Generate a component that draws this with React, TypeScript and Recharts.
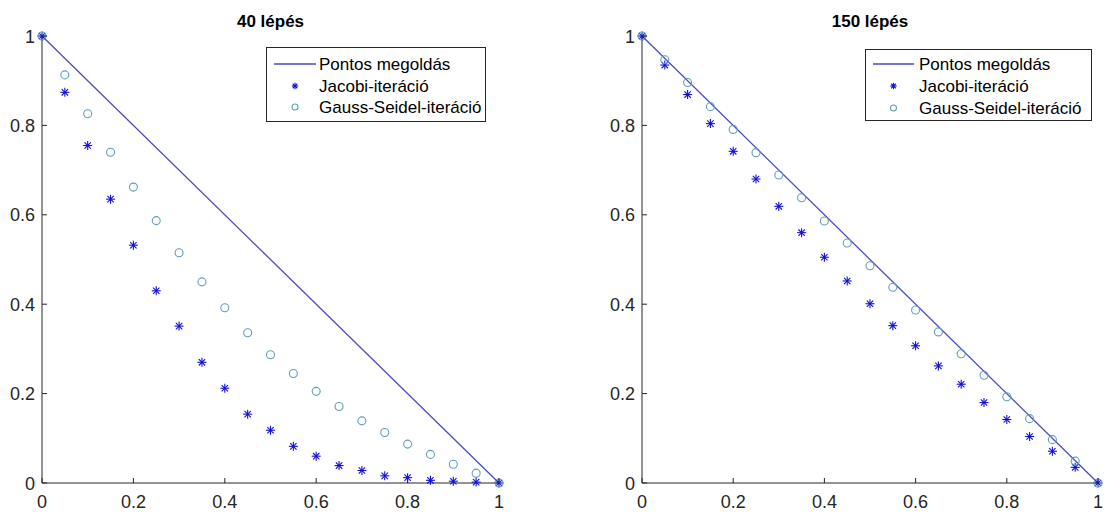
import React from 'react';
import { ComposedChart, Scatter, XAxis, YAxis, Legend } from 'recharts';

const FONT = '"Liberation Sans", Arial, Helvetica, sans-serif';
const AXIS_COLOR = '#262626';
const LINE_COLOR = '#4a4ac4';
const STAR_COLOR = '#1010d8';
const CIRCLE_COLOR = '#5fa0b8';

const xValues = [0, 0.05, 0.1, 0.15, 0.2, 0.25, 0.3, 0.35, 0.4, 0.45, 0.5, 0.55, 0.6, 0.65, 0.7, 0.75, 0.8, 0.85, 0.9, 0.95, 1];
const exactX = [0, 1];
const exactY = [1, 0];
const jacobi40 = [1, 0.874, 0.755, 0.635, 0.532, 0.43, 0.351, 0.27, 0.212, 0.154, 0.118, 0.082, 0.06, 0.039, 0.028, 0.016, 0.012, 0.006, 0.004, 0.002, 0];
const gaussSeidel40 = [1, 0.913, 0.826, 0.74, 0.662, 0.587, 0.515, 0.45, 0.392, 0.336, 0.287, 0.245, 0.205, 0.171, 0.139, 0.113, 0.087, 0.064, 0.042, 0.022, 0];
const jacobi150 = [1, 0.935, 0.869, 0.804, 0.742, 0.68, 0.619, 0.56, 0.505, 0.452, 0.401, 0.352, 0.307, 0.262, 0.221, 0.18, 0.142, 0.104, 0.071, 0.035, 0];
const gaussSeidel150 = [1, 0.947, 0.896, 0.842, 0.791, 0.739, 0.689, 0.638, 0.586, 0.537, 0.486, 0.438, 0.387, 0.338, 0.289, 0.241, 0.193, 0.144, 0.097, 0.049, 0];
const tickValues = [0, 0.2, 0.4, 0.6, 0.8, 1];
const yTickValues = [0, 0.2, 0.4, 0.6, 0.8, 1];
const titles = ['40 lépés', '150 lépés'];
const legendLabels = ['Pontos megoldás', 'Jacobi-iteráció', 'Gauss-Seidel-iteráció'];

const toPoints = (xs: number[], ys: number[]) => xs.map((x, i) => ({ x, y: ys[i] }));

const Star = ({ cx, cy, r = 4.5, color = STAR_COLOR }: any) => {
  if (cx == null || cy == null) return <g />;
  const d = r * 0.7071;
  return (
    <g stroke={color} strokeWidth={1.1}>
      <line x1={cx - r} y1={cy} x2={cx + r} y2={cy} />
      <line x1={cx} y1={cy - r} x2={cx} y2={cy + r} />
      <line x1={cx - d} y1={cy - d} x2={cx + d} y2={cy + d} />
      <line x1={cx - d} y1={cy + d} x2={cx + d} y2={cy - d} />
    </g>
  );
};

const Ring = ({ cx, cy, r = 4 }: any) => {
  if (cx == null || cy == null) return <g />;
  return <circle cx={cx} cy={cy} r={r} fill="none" stroke={CIRCLE_COLOR} strokeWidth={1.1} />;
};

const Nothing = () => <g />;

const BottomTick = ({ x, y, payload }: any) => (
  <g>
    <line x1={x} x2={x} y1={y} y2={y - 5} stroke={AXIS_COLOR} strokeWidth={1} />
    <text x={x} y={y + 25} textAnchor="middle" fontFamily={FONT} fontSize={18} fill={AXIS_COLOR}>
      {String(payload.value)}
    </text>
  </g>
);
const TopTick = ({ x, y }: any) => (
  <line x1={x} x2={x} y1={y} y2={y + 5} stroke={AXIS_COLOR} strokeWidth={1} />
);
const LeftTick = ({ x, y, payload }: any) => (
  <g>
    <line x1={x} x2={x + 5} y1={y} y2={y} stroke={AXIS_COLOR} strokeWidth={1} />
    <text x={x - 7} y={y + 6.5} textAnchor="end" fontFamily={FONT} fontSize={18} fill={AXIS_COLOR}>
      {String(payload.value)}
    </text>
  </g>
);
const RightTick = ({ x, y }: any) => (
  <line x1={x} x2={x - 5} y1={y} y2={y} stroke={AXIS_COLOR} strokeWidth={1} />
);

const LegendBox = ({ w, h, rows, lineX1, lineX2, textX }: any) => (
  <svg width={w} height={h} style={{ display: 'block', overflow: 'visible' }}>
    <rect x={0.5} y={0.5} width={w - 1} height={h - 1} fill="#ffffff" stroke={AXIS_COLOR} strokeWidth={1} />
    <line x1={lineX1} x2={lineX2} y1={rows[0]} y2={rows[0]} stroke={LINE_COLOR} strokeWidth={1.3} />
    <Star cx={(lineX1 + lineX2) / 2} cy={rows[1]} r={3.2} />
    <Ring cx={(lineX1 + lineX2) / 2} cy={rows[2]} r={3} />
    {legendLabels.map((lab, i) => (
      <text key={lab} x={textX} y={rows[i] + 6} fontFamily={FONT} fontSize={17} fill="#000000">
        {lab}
      </text>
    ))}
  </svg>
);

type PanelProps = {
  title: string;
  jacobi: number[];
  gs: number[];
  left: number;
  width: number;
  marginRight: number;
  legend: { left: number; top: number; w: number; h: number; rows: number[]; lineX1: number; lineX2: number; textX: number };
};

const Panel = ({ title, jacobi, gs, left, width, marginRight, legend }: PanelProps) => {
  const plotLeft = 42;
  const plotRight = width - marginRight;
  const center = (plotLeft + plotRight) / 2;
  return (
    <div style={{ position: 'absolute', left, top: 0, width, height: 516 }}>
      <ComposedChart width={width} height={516} margin={{ top: 36, right: marginRight, bottom: 0, left: 0 }}>
        <XAxis
          dataKey="x"
          type="number"
          domain={[0, 1]}
          ticks={tickValues}
          interval={0}
          height={33}
          tickSize={0}
          tickMargin={0}
          tickLine={false}
          tick={BottomTick}
          axisLine={{ stroke: AXIS_COLOR }}
        />
        <XAxis
          xAxisId="top"
          orientation="top"
          dataKey="x"
          type="number"
          domain={[0, 1]}
          ticks={tickValues}
          interval={0}
          height={0}
          tickSize={0}
          tickMargin={0}
          tickLine={false}
          tick={TopTick}
          axisLine={{ stroke: AXIS_COLOR }}
        />
        <YAxis
          dataKey="y"
          type="number"
          domain={[0, 1]}
          ticks={yTickValues}
          interval={0}
          width={42}
          tickSize={0}
          tickMargin={0}
          tickLine={false}
          tick={LeftTick}
          axisLine={{ stroke: AXIS_COLOR }}
        />
        <YAxis
          yAxisId="right"
          orientation="right"
          dataKey="y"
          type="number"
          domain={[0, 1]}
          ticks={yTickValues}
          interval={0}
          width={0}
          tickSize={0}
          tickMargin={0}
          tickLine={false}
          tick={RightTick}
          axisLine={{ stroke: AXIS_COLOR }}
        />
        <Scatter
          name={legendLabels[0]}
          data={toPoints(exactX, exactY)}
          line={{ stroke: LINE_COLOR, strokeWidth: 1.3 }}
          shape={Nothing}
          isAnimationActive={false}
        />
        <Scatter
          name={legendLabels[1]}
          data={toPoints(xValues, jacobi)}
          shape={(p: any) => <Star cx={p.cx} cy={p.cy} />}
          isAnimationActive={false}
        />
        <Scatter
          name={legendLabels[2]}
          data={toPoints(xValues, gs)}
          shape={(p: any) => <Ring cx={p.cx} cy={p.cy} />}
          isAnimationActive={false}
        />
        <Legend
          layout="vertical"
          align="center"
          verticalAlign="middle"
          wrapperStyle={{ left: legend.left, top: legend.top, width: legend.w, height: legend.h }}
          content={() => <LegendBox {...legend} />}
        />
      </ComposedChart>
      <svg width={width} height={36} style={{ position: 'absolute', left: 0, top: 0, pointerEvents: 'none' }}>
        <text x={center} y={27} textAnchor="middle" fontFamily={FONT} fontSize={17} fontWeight="bold" fill="#000000">
          {title}
        </text>
      </svg>
    </div>
  );
};

export default function App() {
  return (
    <div style={{ position: 'absolute', left: 0, top: 0, width: 1105, height: 516, background: '#ffffff', overflow: 'hidden' }}>
      <Panel
        title={titles[0]}
        jacobi={jacobi40}
        gs={gaussSeidel40}
        left={0}
        width={520}
        marginRight={21}
        legend={{ left: 266, top: 47, w: 220, h: 75, rows: [17, 39, 60], lineX1: 8, lineX2: 50, textX: 53 }}
      />
      <Panel
        title={titles[1]}
        jacobi={jacobi150}
        gs={gaussSeidel150}
        left={600}
        width={505}
        marginRight={7}
        legend={{ left: 265, top: 49, w: 227, h: 72, rows: [15, 37, 59], lineX1: 8, lineX2: 49, textX: 54 }}
      />
    </div>
  );
}
